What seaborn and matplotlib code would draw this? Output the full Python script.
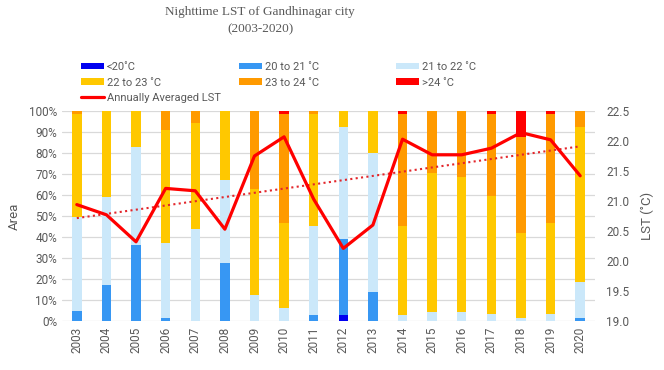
import numpy as np
import matplotlib
matplotlib.use("Agg")
import matplotlib.pyplot as plt
import seaborn as sns
from matplotlib.patches import Patch
from matplotlib.lines import Line2D

# Data (share of city area per LST class, %)
years = ["2003", "2004", "2005", "2006", "2007", "2008", "2009", "2010", "2011",
         "2012", "2013", "2014", "2015", "2016", "2017", "2018", "2019", "2020"]
below_20 = [0, 0, 0, 0, 0, 0, 0, 0, 0, 2.9, 0, 0, 0, 0, 0, 0, 0, 0]
c20_21 = [4.8, 17.1, 36.0, 1.3, 0, 27.8, 0, 0, 2.9, 36.0, 14.0, 0, 0, 0, 0, 0, 0, 1.3]
c21_22 = [44.9, 42.1, 47.0, 35.7, 43.7, 39.3, 12.4, 6.0, 42.5, 53.3, 65.8, 2.9, 4.4, 4.4, 3.2, 1.3, 3.2, 17.4]
c22_23 = [48.7, 40.8, 17.0, 54.0, 50.4, 32.9, 50.3, 40.8, 53.2, 7.8, 20.2, 42.5, 66.2, 64.3, 56.3, 40.8, 43.6, 73.5]
c23_24 = [1.6, 0, 0, 9.0, 5.9, 0, 37.3, 51.8, 1.4, 0, 0, 53.2, 29.4, 31.3, 38.9, 45.7, 51.8, 7.8]
above_24 = [0, 0, 0, 0, 0, 0, 0, 1.4, 0, 0, 0, 1.4, 0, 0, 1.6, 12.2, 1.4, 0]
lst_avg = [20.94, 20.77, 20.32, 21.21, 21.17, 20.53, 21.75, 22.07, 21.03,
           20.21, 20.60, 22.03, 21.77, 21.77, 21.88, 22.14, 22.02, 21.42]

labels = ["<20˚C", "20 to 21 ˚C", "21 to 22 ˚C", "22 to 23 ˚C", "23 to 24 ˚C", ">24 ˚C"]
colors = ["#0000F0", "#3797F3", "#CBE8FA", "#FFC800", "#FF9A00", "#FF0000"]
series = [below_20, c20_21, c21_22, c22_23, c23_24, above_24]

sns.set_theme(style="whitegrid")
plt.rcParams["font.family"] = ["Roboto", "DejaVu Sans"]
grey = "#595959"

fig = plt.figure(figsize=(6.64, 3.70), dpi=100)
ax = fig.add_axes([62 / 664, 1 - 321 / 370, 533 / 664, 210 / 370])

# stacked bars: draw cumulative totals from the top down
cums = np.cumsum(np.array(series, dtype=float), axis=0)
for cum, col in reversed(list(zip(cums, colors))):
    sns.barplot(x=years, y=cum, color=col, width=0.32, saturation=1,
                errorbar=None, linewidth=0, ax=ax)

ax.set_ylim(0, 100)
ax.set_xlim(-0.5, len(years) - 0.5)
ax.set_yticks(np.arange(0, 101, 10))
ax.set_yticklabels([f"{v}%" for v in range(0, 101, 10)])
ax.set_axisbelow(True)
ax.yaxis.grid(True, color="#D9D9D9", lw=0.9)
ax.xaxis.grid(False)
ax.tick_params(axis="both", length=0, colors=grey, labelsize=8.5)
ax.tick_params(axis="x", rotation=90, pad=4)
ax.set_xlabel("")
ax.set_ylabel("Area", color=grey, fontsize=9.5, labelpad=6)
for s in ax.spines.values():
    s.set_visible(False)

ax2 = ax.twinx()
xpos = np.arange(len(years))
sns.regplot(x=xpos, y=lst_avg, ax=ax2, scatter=False, ci=None, color="#E3262B",
            line_kws=dict(ls=(0, (1, 1.6)), lw=1.5))
sns.lineplot(x=xpos, y=lst_avg, ax=ax2, color="#FF0000", lw=2.3)
ax2.set_ylim(19, 22.5)
ax2.set_yticks(np.arange(19, 22.51, 0.5))
ax2.set_yticklabels([f"{v:.1f}" for v in np.arange(19, 22.51, 0.5)])
ax2.grid(False)
ax2.tick_params(axis="y", length=0, colors=grey, labelsize=8.5, pad=8)
ax2.set_ylabel("LST (˚C)", color=grey, fontsize=9.5, labelpad=8)
ax2.set_xlim(-0.5, len(years) - 0.5)
for s in ax2.spines.values():
    s.set_visible(False)

# title
fig.text(260 / 664, 1 - 12 / 370, "Nighttime LST of Gandhinagar city", ha="center", va="center",
         family="Liberation Serif", fontsize=9.5, color=grey)
fig.text(260 / 664, 1 - 29 / 370, "(2003-2020)", ha="center", va="center",
         family="Liberation Serif", fontsize=9.5, color=grey)

# legend, three columns placed by hand
patches = [Patch(facecolor=c, edgecolor="none", label=l) for l, c in zip(labels, colors)]
line_h = Line2D([], [], color="#FF0000", lw=2.3, label="Annually Averaged LST")
columns = [([patches[0], patches[3], line_h], 81), ([patches[1], patches[4]], 239),
           ([patches[2], patches[5]], 396)]
for handles, xl in columns:
    lg = fig.legend(handles=handles, loc="upper left", bbox_to_anchor=(xl / 664, 1 - 62 / 370),
                    frameon=False, fontsize=8, borderpad=0, borderaxespad=0,
                    handlelength=2.1, handleheight=0.55, handletextpad=0.25, labelspacing=0.5)
    for t in lg.get_texts():
        t.set_color(grey)

fig.savefig("out.png", dpi=100)
